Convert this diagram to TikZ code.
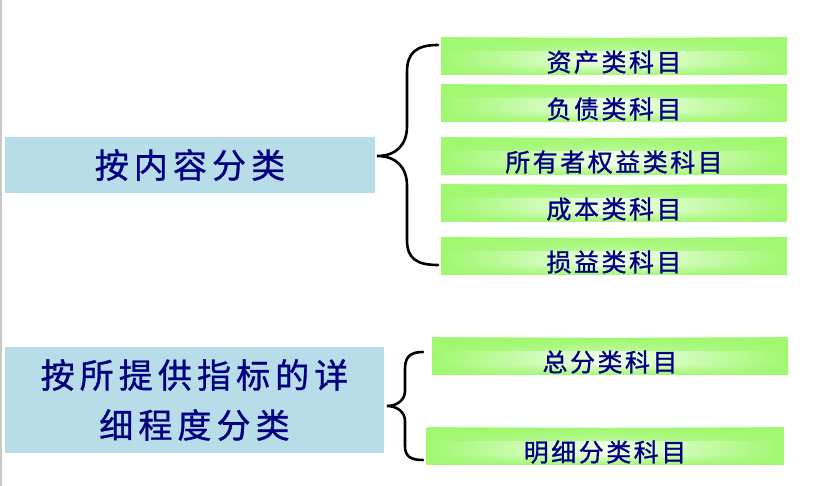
\documentclass[tikz,border=0pt]{standalone}
\usepackage{fontspec}
\usetikzlibrary{fadings}
\newfontfamily\cjkbig[LetterSpace=15, FakeBold=1]{Noto Sans CJK SC}
\newfontfamily\cjksmall[LetterSpace=10, FakeBold=1]{Noto Sans CJK SC}
\definecolor{bluebox}{HTML}{B7DDE8}
\definecolor{gedge}{HTML}{A0F870}
\definecolor{gmid}{HTML}{F2FFEA}
\definecolor{txt}{HTML}{000080}
\definecolor{edgegrey}{HTML}{C8C8C8}
\tikzfading[name=fadetop, top color=transparent!0, bottom color=transparent!100]
\tikzfading[name=fadebot, top color=transparent!100, bottom color=transparent!0]
\tikzset{
  bbox/.style={rectangle, inner sep=0pt, fill=bluebox, text=txt,
    font=\fontsize{34pt}{50pt}\selectfont\cjkbig, align=center},
  gbox/.style={rectangle, inner sep=0pt, minimum height=37pt,
    left color=gedge, right color=gedge, middle color=gmid,
    text=txt, font=\fontsize{25pt}{28pt}\selectfont\cjksmall,
    text height=30pt, text depth=0pt,
    path picture={
      \fill[gedge, path fading=fadetop] (path picture bounding box.north west)
        rectangle ([yshift=-13pt]path picture bounding box.north east);
      \fill[gedge, path fading=fadebot] ([yshift=11pt]path picture bounding box.south west)
        rectangle (path picture bounding box.south east);
    }},
  brace/.style={draw=black, line width=2.6pt, line cap=round}
}
\begin{document}
\begin{tikzpicture}[x=1pt, y=-1pt]
\useasboundingbox (0,0) rectangle (823,486);
\fill[white] (0,0) rectangle (823,486);
\draw[edgegrey, line width=1.5pt] (0.75,0) -- (0.75,486);

% left boxes
\node[bbox, minimum width=370pt, minimum height=56pt] (content) at (190,165) {按内容分类};
\node[bbox, minimum width=379pt, minimum height=106pt] (detail) at (194.5,400)
  {按所提供指标的详\\细程度分类};

% green boxes group 1
\node[gbox, minimum width=346pt] (asset) at (614,56.5) {资产类科目};
\node[gbox, minimum width=346pt] (liab) at (614,103.5) {负债类科目};
\node[gbox, minimum width=346pt] (equity) at (614,156.5) {所有者权益类科目};
\node[gbox, minimum width=346pt] (cost) at (614,203.5) {成本类科目};
\node[gbox, minimum width=346pt] (pl) at (614,256.5) {损益类科目};

% green boxes group 2
\node[gbox, minimum width=356pt] (general) at (610,356.5) {总分类科目};
\node[gbox, minimum width=357pt] (subsid) at (605,446.5) {明细分类科目};

% brace 1
\coordinate (b1top) at (438,45);
\coordinate (b1tip) at (377,156);
\coordinate (b1bot) at (438,265);
\draw[brace] (b1top) .. controls (416,45) and (407,53) .. (407,72)
  -- (407,126) .. controls (407,145) and (396,156) .. (b1tip)
  .. controls (396,156) and (407,167) .. (407,186)
  -- (407,240) .. controls (407,258) and (416,265) .. (b1bot);

% brace 2
\coordinate (b2top) at (423,352);
\coordinate (b2tip) at (387,406);
\coordinate (b2bot) at (423,460);
\draw[brace] (b2top) .. controls (410,352) and (405,357) .. (405,369)
  -- (405,391) .. controls (405,400) and (397,406) .. (b2tip)
  .. controls (397,406) and (405,412) .. (405,421)
  -- (405,446) .. controls (405,456) and (410,460) .. (b2bot);
\end{tikzpicture}
\end{document}
